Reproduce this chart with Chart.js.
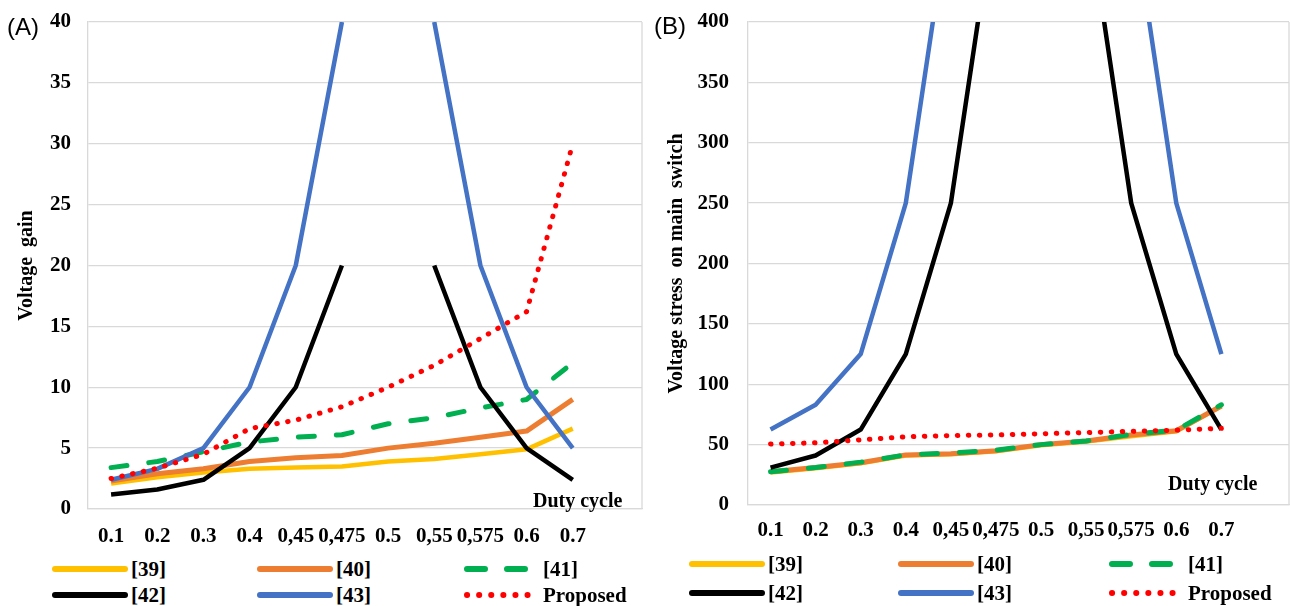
<!DOCTYPE html>
<html>
<head>
<meta charset="utf-8">
<title>Voltage gain and voltage stress vs duty cycle</title>
<script src="https://cdn.jsdelivr.net/npm/chart.js@4.4.0/dist/chart.umd.min.js"></script>
<style>
  body { margin: 0; background: #fff; }
  #page { position: relative; width: 1290px; height: 606px; overflow: hidden; font-family: 'Liberation Serif', 'Times New Roman', serif; }
  canvas { position: absolute; top: 0; }
  .tag { position: absolute; font-family: 'Liberation Sans', Arial, sans-serif; font-size: 24px; line-height: 24px; }
  .axis-name { position: absolute; font-weight: bold; font-size: 20px; line-height: 20px; white-space: nowrap; }
  .legend-item { position: absolute; display: flex; align-items: center; font-weight: bold; font-size: 21px; line-height: 24px; white-space: nowrap; }
  .legend-item svg { display: block; }
</style>
</head>
<body>
<div id="page">
  <canvas id="gainChart" width="650" height="555" style="left:0"></canvas>
  <canvas id="stressChart" width="640" height="555" style="left:650px"></canvas>
  <div class="tag" style="left:7px; top:15px">(A)</div>
  <div class="tag" style="left:654px; top:14px">(B)</div>
  <div class="axis-name" style="left:533px; top:490px">Duty cycle</div>
  <div class="axis-name" style="left:1168px; top:473px">Duty cycle</div>
</div>
<script>
// duty cycle categories (last slot left empty for the axis name)
const dutyLabels = ['0.1', '0.2', '0.3', '0.4', '0,45', '0,475', '0.5', '0,55', '0,575', '0.6', '0.7', ''];
const seriesNames = ['[39]', '[40]', '[41]', '[42]', '[43]', 'Proposed'];

// (A) voltage gain
const gain39 = [2.1, 2.6, 3.0, 3.3, 3.4, 3.5, 3.9, 4.1, 4.5, 4.9, 6.6];
const gain40 = [2.3, 2.9, 3.3, 3.9, 4.2, 4.4, 5.0, 5.4, 5.9, 6.4, 9.0];
const gain41 = [3.4, 3.9, 4.7, 5.5, 5.9, 6.1, 7.0, 7.5, 8.3, 9.0, 12.0];
const gain42 = [1.2, 1.6, 2.4, 5, 10, 20, null, 20, 10, 5, 2.4];
const gain43 = [2.4, 3.3, 5, 10, 20, 40, null, 40, 20, 10, 5];
const gainProposed = [2.5, 3.35, 4.5, 6.6, 7.3, 8.4, 10.0, 11.8, 14.0, 16.2, 30.0];
const gainTicks = { max: 40, step: 5 };

// (B) voltage stress on main switch
const stress39 = [27, 30.5, 34.5, 41, 42, 44.5, 49.5, 52.5, 57, 61, 82];
const stress40 = [27.5, 31, 35, 41.5, 42.5, 45, 50, 53, 58, 61.5, 82];
const stress41 = [27.5, 31, 35.5, 41.5, 43, 45.5, 50, 53, 58.5, 62, 83];
const stress42 = [31, 41, 62.5, 125, 250, 500, null, 500, 250, 125, 62.5];
const stress43 = [62.5, 83, 125, 250, 500, 1000, null, 1000, 500, 250, 125];
const stressProposed = [50.5, 51.5, 54, 56.5, 57.5, 58, 59, 60, 61, 62, 63.5];
const stressTicks = { max: 400, step: 50 };

// line styles, same order as seriesNames
const lineStyles = [
  { color: '#FFC000', width: 4.5, dash: [] },
  { color: '#ED7D31', width: 5, dash: [] },
  { color: '#00B050', width: 5, dash: [16, 22] },
  { color: '#000000', width: 4.5, dash: [] },
  { color: '#4472C4', width: 4.5, dash: [] },
  { color: '#FF0000', width: 5, dash: [0.5, 10.5] }
];
const legendDash = ['', '', '18 22', '', '', '0.1 12'];

Chart.defaults.font.family = "'Liberation Serif', 'Times New Roman', serif";
Chart.defaults.font.size = 21;
Chart.defaults.font.weight = 'bold';
Chart.defaults.color = '#000';

const GRID = '#d9d9d9';

// right-hand side of the plot box
const plotFrame = {
  id: 'plotFrame',
  beforeDatasetsDraw(chart) {
    const { ctx, chartArea: a } = chart;
    ctx.save();
    ctx.strokeStyle = GRID;
    ctx.lineWidth = 1.3;
    ctx.beginPath();
    ctx.moveTo(a.right, a.top);
    ctx.lineTo(a.right, a.bottom);
    ctx.stroke();
    ctx.restore();
  }
};

function makeDatasets(values) {
  return values.map((data, i) => {
    const st = lineStyles[i];
    return {
      label: seriesNames[i],
      data: data,
      borderColor: st.color,
      backgroundColor: st.color,
      borderWidth: st.width,
      borderDash: st.dash,
      borderCapStyle: st.dash.length ? 'round' : 'butt',
      borderJoinStyle: 'round',
      pointRadius: 0,
      pointHoverRadius: 0,
      spanGaps: false,
      tension: 0,
      fill: false,
      order: values.length - i // later series drawn on top
    };
  });
}

function makeChart(id, values, ticks, cfg) {
  return new Chart(document.getElementById(id), {
    type: 'line',
    data: { labels: dutyLabels, datasets: makeDatasets(values) },
    plugins: [plotFrame],
    options: {
      responsive: false,
      animation: false,
      events: [],
      layout: { padding: { top: 22, right: cfg.rightPad, left: 0, bottom: 0 } },
      plugins: { legend: { display: false }, tooltip: { enabled: false } },
      scales: {
        x: {
          type: 'category',
          offset: true,
          grid: { display: false, drawTicks: false },
          border: { display: true, color: GRID, width: 1.3 },
          ticks: { padding: cfg.xPad, maxRotation: 0, autoSkip: false },
          afterFit: s => { s.height = cfg.xHeight; }
        },
        y: {
          min: 0,
          max: ticks.max,
          ticks: { stepSize: ticks.step, padding: cfg.yPad },
          grid: { color: GRID, lineWidth: 1.3, drawTicks: false },
          border: { display: true, color: GRID, width: 1.3 },
          title: { display: true, text: cfg.yTitle, font: { size: 20 }, padding: { top: cfg.titlePad, bottom: 0 } },
          afterFit: s => {
            s.width = cfg.axisWidth;
            // the layout padding already leaves room for the end labels
            s.paddingTop = 0;
            s.paddingBottom = 0;
          }
        }
      }
    }
  });
}

function buildLegend(chart, cols, rows) {
  const page = document.getElementById('page');
  chart.data.datasets.forEach((ds, i) => {
    const item = document.createElement('div');
    item.className = 'legend-item';
    item.style.left = (cols[i % 3] - 4) + 'px';
    item.style.top = (rows[Math.floor(i / 3)] - 12) + 'px';
    const dash = legendDash[i] ? ` stroke-dasharray="${legendDash[i]}"` : '';
    item.innerHTML =
      `<svg width="80" height="24"><line x1="4" y1="12" x2="74" y2="12" stroke="${ds.borderColor}" ` +
      `stroke-width="6" stroke-linecap="round"${dash}/></svg><span>${ds.label}</span>`;
    page.appendChild(item);
  });
}

const gainChart = makeChart('gainChart',
  [gain39, gain40, gain41, gain42, gain43, gainProposed], gainTicks,
  { yTitle: 'Voltage  gain', axisWidth: 88, yPad: 17, titlePad: 15, xPad: 15, xHeight: 46, rightPad: 8 });

const stressChart = makeChart('stressChart',
  [stress39, stress40, stress41, stress42, stress43, stressProposed], stressTicks,
  { yTitle: 'Voltage stress  on main  switch', axisWidth: 98, yPad: 19, titlePad: 15, xPad: 13, xHeight: 50, rightPad: 1 });

buildLegend(gainChart, [55, 260, 467], [569, 595]);
buildLegend(stressChart, [692, 901, 1112], [564, 593]);
</script>
</body>
</html>
